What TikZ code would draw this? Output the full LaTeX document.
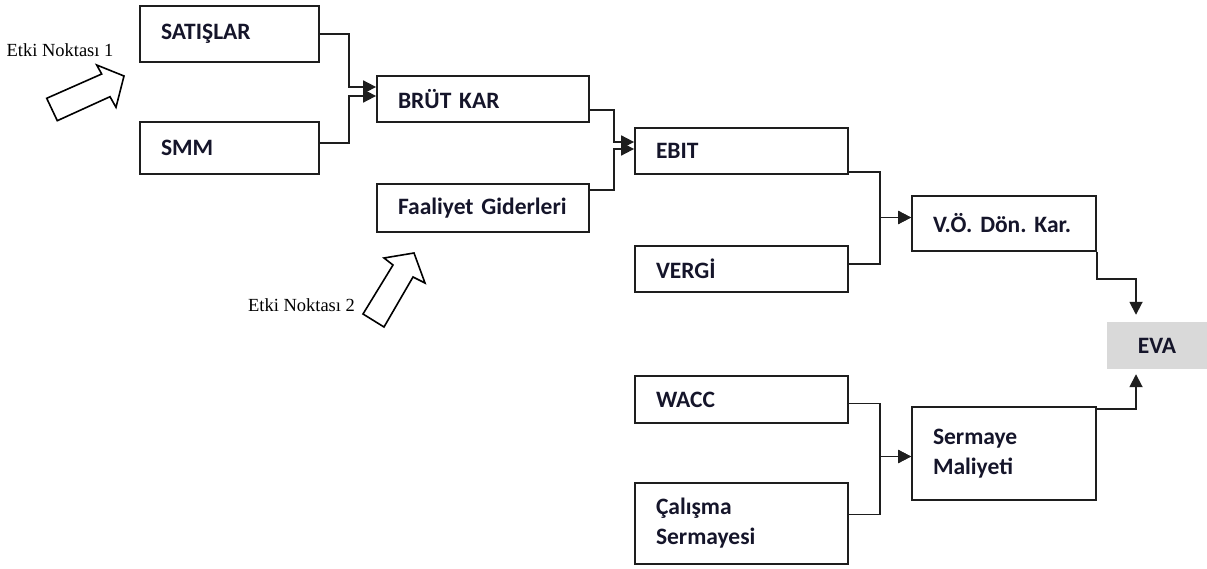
\documentclass[tikz,border=0pt]{standalone}
\usepackage{fontspec}
\setmainfont{Liberation Serif}
\newfontfamily\kalemfont{Carlito}
\usepackage{xcolor}
\usepackage{tikz}
\usetikzlibrary{arrows.meta}
\definecolor{cizgi}{HTML}{1E1E1E}
\definecolor{evagri}{HTML}{D9D9D9}
\definecolor{koyuyazi}{HTML}{15152A}

\begin{document}
\begin{tikzpicture}[x=1pt, y=-1pt,
    kalem/.style 2 args={draw=cizgi, line width=1.8pt, inner xsep=21pt, inner ysep=0pt,
      text width=#1-42pt, minimum height=#2, align=left, text=koyuyazi,
      font=\kalemfont\bfseries\fontsize{23.5}{30}\selectfont\frenchspacing},
    baglanti/.style={draw=cizgi, line width=1.8pt, -{Triangle[length=13pt,width=13pt]}},
    etki/.style={font=\fontsize{18.5}{22}\selectfont, inner sep=0pt},
    okblok/.style={draw=black, line width=1.6pt, fill=white, line join=miter}]
  \useasboundingbox (0,0) rectangle (1207,569);

  \node[kalem={179pt}{56pt}] (satis) at (229.5,34) {SATIŞLAR};
  \node[kalem={179pt}{52pt}] (smm) at (229.5,148) {SMM};
  \node[kalem={212pt}{46pt}] (brut) at (483,99) {BRÜT KAR};
  \node[kalem={212pt}{48pt}] (faal) at (483,208) {Faaliyet Giderleri};
  \node[kalem={213pt}{46pt}] (ebit) at (741.5,151) {EBIT};
  \node[kalem={213pt}{46pt}] (vergi) at (741.5,269) {VERGİ};
  \node[kalem={213pt}{47pt}] (wacc) at (741.5,399.5) {WACC};
  \node[kalem={213pt}{81pt}] (calis) at (741.5,523.5) {Çalışma\\Sermayesi};
  \node[kalem={184pt}{55pt}] (vo) at (1004,223.5) {V.Ö. Dön. Kar.};
  \node[kalem={184pt}{93pt}] (serm) at (1004,453.5) {Sermaye\\Maliyeti};
  \node[fill=evagri, minimum width=100pt, minimum height=47pt, inner sep=0pt, text=koyuyazi,
        font=\kalemfont\bfseries\fontsize{23.5}{30}\selectfont] (eva) at (1157,345.5) {EVA};

  \draw[baglanti] (satis.east) -- ++(29,0) |- ([yshift=12pt]brut.west);
  \draw[baglanti] ([yshift=5pt]smm.east) -- ++(29,0) |- ([yshift=3pt]brut.west);
  \draw[baglanti] ([yshift=-11pt]brut.east) -- ++(24,0) |- ([yshift=9pt]ebit.west);
  \draw[baglanti] ([yshift=18pt]faal.east) -- ++(24,0) |- ([yshift=2pt]ebit.west);
  \draw[baglanti] ([yshift=-21pt]ebit.east) -- ++(31,0) |- ([yshift=6pt]vo.west);
  \draw[baglanti] ([yshift=5pt]vergi.east) -- ++(31,0) |- ([yshift=6pt]vo.west);
  \draw[baglanti] ([yshift=-4pt]wacc.east) -- ++(31,0) |- ([yshift=-3pt]serm.west);
  \draw[baglanti] ([yshift=9pt]calis.east) -- ++(31,0) |- ([yshift=-3pt]serm.west);
  \draw[baglanti] (vo.south east) -- ++(0,27) -| ([xshift=-21pt,yshift=7pt]eva.north);
  \draw[baglanti] ([yshift=-3pt]serm.north east) -| ([xshift=-21pt,yshift=-5pt]eva.south);

  \node[etki] (etki1) at (60,50) {Etki Noktası 1};
  \draw[okblok] (46.7,98.3) -- (57.3,120.7) -- (110,96.7) -- (116,107.3) -- (124,76)
    -- (96.7,65) -- (101.7,74) -- cycle;
  \node[etki] (etki2) at (301.5,305) {Etki Noktası 2};
  \draw[okblok] (363,314) -- (384,327) -- (413,277) -- (425,283) -- (414,253)
    -- (384,258) -- (393,265) -- cycle;
\end{tikzpicture}
\end{document}
